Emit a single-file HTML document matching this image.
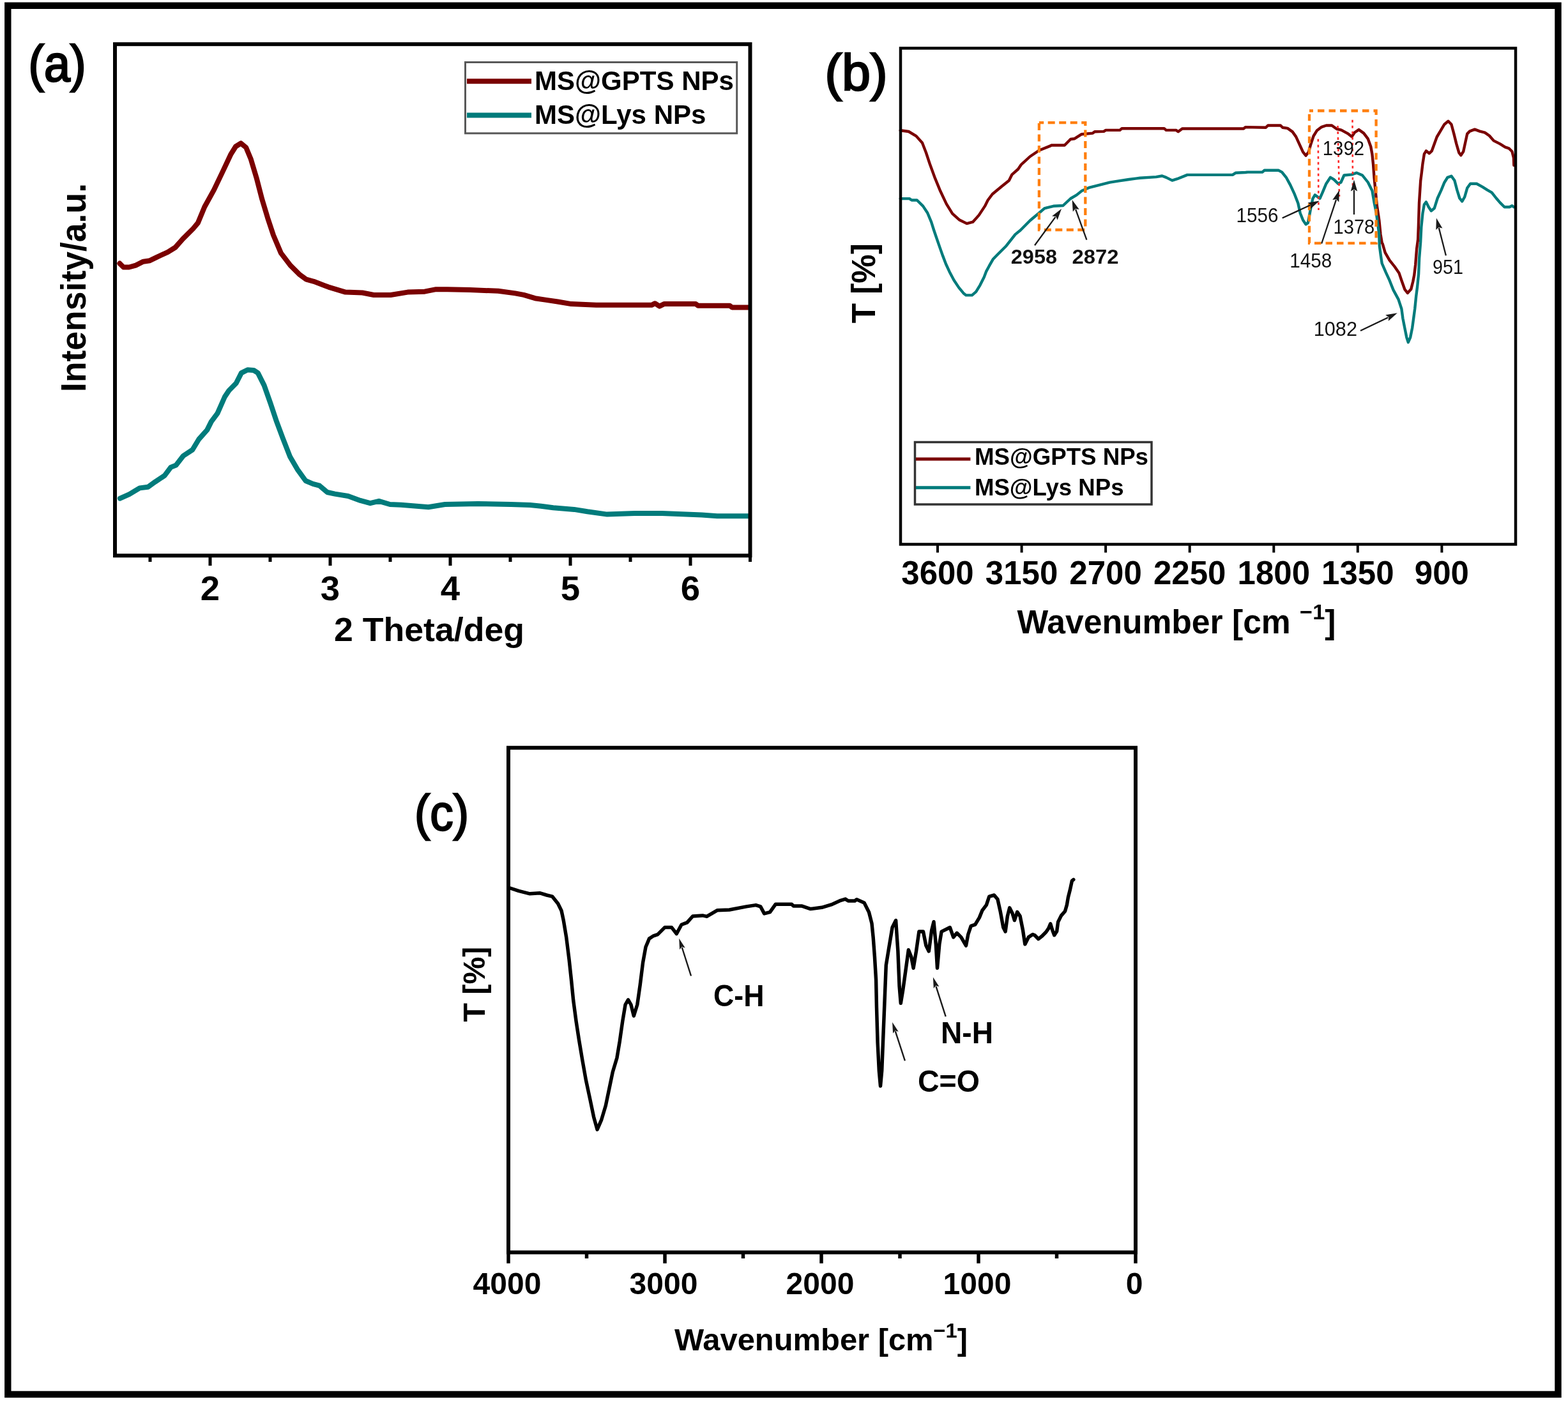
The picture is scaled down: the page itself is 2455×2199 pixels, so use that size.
<!DOCTYPE html>
<html><head><meta charset="utf-8"><title>Figure</title>
<style>html,body{margin:0;padding:0;background:#fff;}svg{display:block;}text{font-family:'Liberation Sans', Arial, sans-serif;}</style>
</head><body>
<svg width="2455" height="2199" viewBox="0 0 2455 2199">
<rect x="0" y="0" width="2455" height="2199" fill="#fff"/>
<rect x="12.3" y="8.8" width="2427.2" height="2175.1" fill="none" stroke="#000" stroke-width="10.4"/>
<polyline points="187.4,412.6 193.3,418.5 202.1,418.5 212.5,415.6 224.3,409.7 234.6,408.2 246.4,402.3 262.7,394.9 274.5,387.5 286.3,374.2 302.5,358.0 309.9,349.1 320.3,324.0 335.0,297.4 349.8,266.4 361.6,241.3 369.0,229.5 377.1,224.4 385.2,231.0 392.6,248.7 401.5,278.3 410.3,312.2 419.2,341.7 428.0,368.3 439.9,396.4 454.6,415.6 469.4,430.3 479.7,437.7 491.3,440.8 514.3,449.6 540.9,457.6 567.4,458.5 585.2,462.0 611.7,462.0 638.3,457.6 664.9,456.7 682.6,453.2 700.3,453.2 735.8,454.0 780.1,455.8 806.6,459.4 820.0,461.9 837.7,467.2 855.4,469.9 873.2,472.5 894.4,476.1 933.4,477.8 1020.2,477.8 1025.5,475.2 1032.6,479.6 1039.7,476.1 1089.3,476.1 1092.9,478.7 1142.5,478.7 1146.0,481.4 1172.6,481.4" fill="none" stroke="#7a0000" stroke-width="8" stroke-linejoin="round" stroke-linecap="round" />
<polyline points="187.9,780.6 202.5,774.1 218.7,764.4 231.7,762.7 243.1,754.6 257.7,744.9 267.4,731.9 275.6,728.6 286.9,714.0 301.5,704.3 311.3,688.0 324.3,673.4 330.8,660.4 340.5,647.4 351.9,621.5 358.4,611.7 369.7,600.3 377.9,584.1 387.6,579.2 397.3,580.0 403.8,584.1 413.6,603.6 423.3,631.2 433.1,660.4 442.8,686.4 454.2,715.6 465.6,735.1 478.5,753.0 489.9,757.9 500.3,760.7 512.4,771.0 524.4,773.6 545.1,777.0 564.1,783.9 579.6,788.2 593.3,784.8 610.6,790.0 627.8,790.8 670.8,794.3 696.7,790.0 748.3,789.1 800.0,790.0 830.0,791.0 847.2,792.7 866.2,795.3 898.9,797.9 919.6,801.3 950.6,805.6 993.6,803.9 1036.7,803.9 1098.7,806.5 1122.8,808.2 1172.7,808.2" fill="none" stroke="#007b7b" stroke-width="8" stroke-linejoin="round" stroke-linecap="round" />
<rect x="180" y="69.2" width="994.5" height="801.0" fill="none" stroke="#000" stroke-width="6"/>
<line x1="329" y1="870.2" x2="329" y2="886" stroke="#000" stroke-width="5" />
<line x1="517" y1="870.2" x2="517" y2="886" stroke="#000" stroke-width="5" />
<line x1="705" y1="870.2" x2="705" y2="886" stroke="#000" stroke-width="5" />
<line x1="893" y1="870.2" x2="893" y2="886" stroke="#000" stroke-width="5" />
<line x1="1081" y1="870.2" x2="1081" y2="886" stroke="#000" stroke-width="5" />
<line x1="235" y1="870.2" x2="235" y2="880" stroke="#000" stroke-width="5" />
<line x1="423" y1="870.2" x2="423" y2="880" stroke="#000" stroke-width="5" />
<line x1="611" y1="870.2" x2="611" y2="880" stroke="#000" stroke-width="5" />
<line x1="799" y1="870.2" x2="799" y2="880" stroke="#000" stroke-width="5" />
<line x1="987" y1="870.2" x2="987" y2="880" stroke="#000" stroke-width="5" />
<line x1="1174.5" y1="870.2" x2="1174.5" y2="880" stroke="#000" stroke-width="5" />
<text x="329" y="939.5" font-size="54.5" font-weight="bold" text-anchor="middle" fill="#000" >2</text>
<text x="517" y="939.5" font-size="54.5" font-weight="bold" text-anchor="middle" fill="#000" >3</text>
<text x="705" y="939.5" font-size="54.5" font-weight="bold" text-anchor="middle" fill="#000" >4</text>
<text x="893" y="939.5" font-size="54.5" font-weight="bold" text-anchor="middle" fill="#000" >5</text>
<text x="1081" y="939.5" font-size="54.5" font-weight="bold" text-anchor="middle" fill="#000" >6</text>
<text x="672" y="1004" font-size="52" font-weight="bold" text-anchor="middle" fill="#000" textLength="298" lengthAdjust="spacingAndGlyphs" >2 Theta/deg</text>
<text x="133.8" y="450.5" font-size="55.5" font-weight="bold" text-anchor="middle" fill="#000" textLength="327" lengthAdjust="spacingAndGlyphs" transform="rotate(-90 133.8 450.5)" >Intensity/a.u.</text>
<text x="44.5" y="126.5" font-size="79" font-weight="normal" text-anchor="start" fill="#000" textLength="90" lengthAdjust="spacingAndGlyphs" stroke="#000" stroke-width="2.6">(a)</text>
<rect x="728.5" y="97.5" width="425.2" height="111.3" fill="none" stroke="#585858" stroke-width="3"/>
<line x1="731" y1="127.2" x2="832" y2="127.2" stroke="#7a0000" stroke-width="8" />
<line x1="731" y1="180.4" x2="832" y2="180.4" stroke="#007b7b" stroke-width="8" />
<text x="837" y="141.3" font-size="42" font-weight="bold" text-anchor="start" fill="#000" textLength="312" lengthAdjust="spacingAndGlyphs" >MS@GPTS NPs</text>
<text x="837" y="194.4" font-size="42" font-weight="bold" text-anchor="start" fill="#000" textLength="268.5" lengthAdjust="spacingAndGlyphs" >MS@Lys NPs</text>
<polyline points="1409.7,204.2 1422.7,206.0 1434.5,213.1 1444.0,223.7 1449.9,239.0 1455.8,256.8 1464.0,279.2 1472.3,299.3 1481.8,319.4 1491.2,334.7 1501.8,344.2 1513.7,350.1 1523.1,347.7 1532.6,337.1 1542.0,322.9 1546.7,313.5 1553.8,304.0 1568.0,292.2 1579.8,282.8 1584.5,273.3 1594.0,265.0 1598.7,258.0 1612.9,245.0 1627.0,235.5 1644.8,228.4 1646.3,227.5 1666.8,227.5 1676.2,218.0 1682.5,217.2 1693.5,210.2 1710.9,208.6 1714.0,206.2 1728.2,205.9 1731.3,203.9 1753.4,203.9 1756.5,201.2 1822.7,201.2 1825.8,203.9 1841.6,203.9 1844.7,206.2 1851.0,201.5 1947.1,201.5 1950.2,199.1 1981.9,199.8 1985.2,196.5 2004.9,196.5 2008.2,199.8 2015.9,200.9 2023.6,206.4 2029.1,214.1 2034.6,226.2 2040.1,238.2 2044.5,243.7 2048.9,238.2 2052.2,226.2 2056.6,213.0 2062.1,204.2 2068.7,199.2 2076.4,196.5 2085.2,196.5 2092.9,202.0 2100.0,203.6 2111.0,209.7 2116.5,214.1 2120.9,207.5 2127.5,203.1 2135.2,208.6 2141.8,217.4 2146.2,229.5 2148.4,241.5 2150.0,256.9 2151.6,278.9 2153.8,300.9 2156.0,322.9 2159.3,344.8 2161.5,366.8 2163.7,380.0 2164.7,381.9 2168.7,395.7 2175.6,407.6 2183.5,417.5 2190.4,427.4 2194.4,439.2 2199.3,453.1 2203.8,459.0 2209.2,453.1 2212.2,441.2 2214.2,431.3 2216.2,414.5 2218.1,389.8 2220.1,375.0 2220.9,353.6 2222.0,317.4 2224.2,283.3 2225.9,270.0 2227.4,257.0 2229.9,241.2 2232.9,236.3 2237.8,240.2 2241.8,236.3 2245.7,225.4 2249.7,214.5 2255.6,204.6 2261.5,194.7 2267.5,189.8 2272.4,194.7 2276.4,209.6 2280.3,225.4 2284.3,239.2 2287.3,243.2 2291.2,237.3 2294.2,223.4 2297.2,209.6 2301.1,205.6 2309.0,202.6 2316.9,205.6 2324.8,207.6 2331.8,212.5 2338.7,220.4 2348.6,225.4 2356.5,230.3 2362.4,232.3 2367.4,237.3 2369.9,247.2 2370.3,259.0" fill="none" stroke="#7a0000" stroke-width="4.4" stroke-linejoin="round" stroke-linecap="round" />
<polyline points="1409.7,311.1 1423.9,311.1 1427.4,313.5 1435.7,313.5 1445.2,322.9 1452.2,333.5 1458.1,347.7 1462.0,360.0 1466.0,371.8 1471.5,387.6 1476.2,400.9 1481.0,413.5 1486.5,425.4 1493.5,438.7 1501.4,450.6 1508.5,459.2 1512.4,462.4 1521.9,462.4 1528.2,456.9 1534.5,446.6 1540.8,434.0 1544.0,425.4 1548.7,416.7 1555.0,405.7 1562.8,397.8 1575.4,385.2 1584.1,374.2 1589.6,367.1 1597.5,360.8 1612.9,345.3 1627.0,333.5 1635.3,326.4 1640.0,325.1 1649.4,322.8 1664.4,322.0 1676.2,311.0 1685.7,305.4 1693.5,299.1 1706.1,293.6 1721.9,289.7 1737.6,285.7 1751.8,283.4 1767.6,281.0 1784.9,278.7 1810.1,277.1 1819.5,275.5 1825.8,277.9 1835.3,282.6 1843.1,280.2 1858.9,273.9 1929.8,273.9 1934.5,270.8 1950.2,270.0 1953.3,269.6 1976.4,269.6 1979.7,266.8 2001.6,266.8 2007.1,269.6 2013.7,277.8 2020.3,289.9 2026.9,304.2 2032.4,318.5 2035.7,333.8 2040.1,344.8 2044.5,351.4 2047.8,349.2 2050.0,338.2 2052.2,326.2 2055.5,310.8 2058.8,305.3 2063.2,308.6 2066.5,310.8 2070.9,300.9 2076.4,287.7 2083.0,277.8 2088.5,281.1 2095.1,287.7 2099.5,285.5 2104.4,274.5 2116.5,273.4 2124.2,270.7 2133.0,274.5 2141.8,285.5 2148.4,298.7 2151.6,317.4 2154.9,333.8 2157.1,350.3 2159.3,366.8 2159.8,384.8 2161.8,399.7 2163.7,412.5 2169.7,426.4 2175.6,439.2 2181.5,454.1 2189.5,468.9 2194.4,483.7 2196.4,498.6 2199.3,513.4 2202.3,528.3 2204.8,536.2 2208.2,528.3 2211.2,513.4 2213.2,498.6 2215.2,483.7 2217.2,464.0 2219.1,449.1 2221.1,429.3 2222.1,404.6 2224.1,379.9 2225.3,355.8 2227.5,333.8 2229.9,320.3 2232.9,316.4 2236.8,324.3 2240.8,330.2 2245.7,326.3 2250.7,310.5 2256.6,297.6 2261.5,285.7 2266.5,277.8 2272.4,275.8 2277.4,282.8 2281.3,297.6 2285.3,310.5 2289.2,315.4 2293.2,308.5 2297.2,294.6 2302.1,287.7 2312.0,287.7 2320.9,292.6 2328.8,297.6 2335.7,301.6 2342.7,310.5 2348.6,317.4 2355.5,324.3 2363.4,324.3 2367.4,322.3 2370.3,324.3" fill="none" stroke="#007b7b" stroke-width="4.4" stroke-linejoin="round" stroke-linecap="round" />
<rect x="1626.9" y="192.1" width="72.4" height="167.9" fill="none" stroke="#ff7f0e" stroke-width="4.3" stroke-dasharray="11,6.5" stroke-dashoffset="3.7"/>
<rect x="2050" y="173.5" width="104.6" height="207.3" fill="none" stroke="#ff7f0e" stroke-width="4.3" stroke-dasharray="10.5,7" stroke-dashoffset="4.5"/>
<line x1="2063.8" y1="217.7" x2="2064.5" y2="329" stroke="#ff2a2a" stroke-width="2.6" stroke-dasharray="4,5"/>
<line x1="2094.5" y1="197" x2="2097" y2="307.7" stroke="#ff2a2a" stroke-width="2.6" stroke-dasharray="4,5"/>
<line x1="2117.5" y1="187.7" x2="2118" y2="297" stroke="#ff2a2a" stroke-width="2.6" stroke-dasharray="4,5"/>
<rect x="1410" y="75.5" width="963" height="777.0" fill="none" stroke="#000" stroke-width="4.5"/>
<line x1="1468.0" y1="852.5" x2="1468.0" y2="865.5" stroke="#000" stroke-width="4" />
<text x="1468.0" y="915" font-size="51" font-weight="bold" text-anchor="middle" fill="#000" >3600</text>
<line x1="1599.6" y1="852.5" x2="1599.6" y2="865.5" stroke="#000" stroke-width="4" />
<text x="1599.6" y="915" font-size="51" font-weight="bold" text-anchor="middle" fill="#000" >3150</text>
<line x1="1731.1" y1="852.5" x2="1731.1" y2="865.5" stroke="#000" stroke-width="4" />
<text x="1731.1" y="915" font-size="51" font-weight="bold" text-anchor="middle" fill="#000" >2700</text>
<line x1="1862.7" y1="852.5" x2="1862.7" y2="865.5" stroke="#000" stroke-width="4" />
<text x="1862.7" y="915" font-size="51" font-weight="bold" text-anchor="middle" fill="#000" >2250</text>
<line x1="1994.3" y1="852.5" x2="1994.3" y2="865.5" stroke="#000" stroke-width="4" />
<text x="1994.3" y="915" font-size="51" font-weight="bold" text-anchor="middle" fill="#000" >1800</text>
<line x1="2125.8" y1="852.5" x2="2125.8" y2="865.5" stroke="#000" stroke-width="4" />
<text x="2125.8" y="915" font-size="51" font-weight="bold" text-anchor="middle" fill="#000" >1350</text>
<line x1="2257.4" y1="852.5" x2="2257.4" y2="865.5" stroke="#000" stroke-width="4" />
<text x="2257.4" y="915" font-size="51" font-weight="bold" text-anchor="middle" fill="#000" >900</text>
<text x="1592.5" y="992" font-size="51" font-weight="bold" fill="#000" textLength="499" lengthAdjust="spacingAndGlyphs">Wavenumber [cm <tspan dy="-22" font-size="34">−1</tspan><tspan dy="22">]</tspan></text>
<text x="1370" y="443.8" font-size="52" font-weight="bold" text-anchor="middle" fill="#000" textLength="125" lengthAdjust="spacingAndGlyphs" transform="rotate(-90 1370 443.8)" >T [%]</text>
<text x="1291.5" y="141" font-size="79" font-weight="normal" text-anchor="start" fill="#000" textLength="98" lengthAdjust="spacingAndGlyphs" stroke="#000" stroke-width="2.6">(b)</text>
<rect x="1432.5" y="692.5" width="370.5" height="97.5" fill="none" stroke="#333" stroke-width="3.5"/>
<line x1="1434" y1="719" x2="1519.4" y2="719" stroke="#7a0000" stroke-width="5" />
<line x1="1434" y1="763.7" x2="1519.4" y2="763.7" stroke="#007b7b" stroke-width="5" />
<text x="1526" y="728.2" font-size="37.7" font-weight="bold" text-anchor="start" fill="#000" textLength="272" lengthAdjust="spacingAndGlyphs" >MS@GPTS NPs</text>
<text x="1526" y="775.5" font-size="37.7" font-weight="bold" text-anchor="start" fill="#000" textLength="233.5" lengthAdjust="spacingAndGlyphs" >MS@Lys NPs</text>
<text x="1582.8" y="412.9" font-size="31" font-weight="bold" text-anchor="start" fill="#111" textLength="72.3" lengthAdjust="spacingAndGlyphs" >2958</text>
<text x="1678.5" y="412.9" font-size="31" font-weight="bold" text-anchor="start" fill="#111" textLength="73" lengthAdjust="spacingAndGlyphs" >2872</text>
<text x="2070.8" y="243" font-size="32" font-weight="normal" text-anchor="start" fill="#111" textLength="65.3" lengthAdjust="spacingAndGlyphs" >1392</text>
<text x="1935.5" y="347.7" font-size="32" font-weight="normal" text-anchor="start" fill="#111" textLength="66" lengthAdjust="spacingAndGlyphs" >1556</text>
<text x="2087.5" y="366.2" font-size="32" font-weight="normal" text-anchor="start" fill="#111" textLength="64.8" lengthAdjust="spacingAndGlyphs" >1378</text>
<text x="2019.3" y="418.5" font-size="32" font-weight="normal" text-anchor="start" fill="#111" textLength="66.0" lengthAdjust="spacingAndGlyphs" >1458</text>
<text x="2056.7" y="525.6" font-size="32" font-weight="normal" text-anchor="start" fill="#111" textLength="68.3" lengthAdjust="spacingAndGlyphs" >1082</text>
<text x="2243.1" y="429.2" font-size="32" font-weight="normal" text-anchor="start" fill="#111" textLength="48.0" lengthAdjust="spacingAndGlyphs" >951</text>
<line x1="1620" y1="384.3" x2="1652.5" y2="339.9" stroke="#1a1a1a" stroke-width="2.3"/>
<polygon points="1662.0,327.0 1655.6,344.6 1653.1,339.1 1647.1,338.4" fill="#1a1a1a"/>
<line x1="1701.4" y1="375.7" x2="1684.1" y2="327.9" stroke="#1a1a1a" stroke-width="2.3"/>
<polygon points="1678.6,312.9 1689.7,328.0 1683.7,327.0 1679.8,331.6" fill="#1a1a1a"/>
<line x1="2007.7" y1="341.5" x2="2051.5" y2="321.3" stroke="#1a1a1a" stroke-width="2.3"/>
<polygon points="2066.0,314.6 2051.9,326.9 2052.4,320.9 2047.5,317.4" fill="#1a1a1a"/>
<line x1="2069.2" y1="381.5" x2="2092.0" y2="312.9" stroke="#1a1a1a" stroke-width="2.3"/>
<polygon points="2097.0,297.7 2096.3,316.4 2092.3,311.9 2086.3,313.1" fill="#1a1a1a"/>
<line x1="2120" y1="336" x2="2120.0" y2="297.5" stroke="#1a1a1a" stroke-width="2.3"/>
<polygon points="2120.0,281.5 2125.2,299.5 2120.0,296.5 2114.8,299.5" fill="#1a1a1a"/>
<line x1="2130" y1="518" x2="2173.4" y2="497.2" stroke="#1a1a1a" stroke-width="2.3"/>
<polygon points="2187.8,490.3 2173.8,502.8 2174.3,496.8 2169.3,493.3" fill="#1a1a1a"/>
<line x1="2263.9" y1="400.3" x2="2252.8" y2="356.9" stroke="#1a1a1a" stroke-width="2.3"/>
<polygon points="2248.9,341.4 2258.4,357.5 2252.6,355.9 2248.3,360.1" fill="#1a1a1a"/>
<polyline points="796.4,1391.5 798.8,1391.0 812.0,1395.4 829.6,1399.8 845.0,1398.7 856.0,1402.0 864.8,1404.2 873.6,1415.2 879.0,1426.2 882.3,1441.6 886.7,1468.0 891.1,1503.1 894.4,1533.9 897.7,1566.9 902.1,1599.9 906.5,1628.5 912.0,1661.4 917.5,1692.2 924.1,1723.0 929.6,1749.4 935.1,1769.2 941.7,1753.8 948.3,1731.8 953.8,1705.4 959.3,1679.0 965.9,1657.0 970.3,1630.7 974.7,1599.9 979.1,1573.5 983.5,1565.8 987.9,1573.5 992.3,1591.1 997.8,1573.5 1002.2,1542.7 1006.6,1507.5 1011.0,1483.3 1016.5,1470.1 1023.1,1465.8 1029.7,1463.6 1040.7,1452.6 1051.6,1452.6 1059.3,1462.5 1067.0,1448.2 1075.8,1444.9 1084.6,1435.0 1100.0,1433.9 1106.6,1435.4 1122.8,1425.8 1142.0,1425.0 1168.6,1419.9 1183.4,1417.6 1190.7,1419.9 1196.6,1430.9 1205.5,1428.7 1214.4,1416.2 1239.5,1416.2 1242.4,1419.1 1255.7,1419.1 1269.0,1423.6 1286.7,1421.3 1301.5,1416.9 1316.2,1410.3 1323.6,1408.1 1328.0,1411.0 1338.4,1411.0 1341.3,1408.8 1353.1,1414.0 1360.5,1428.7 1365.0,1446.4 1367.2,1468.6 1369.4,1498.1 1371.6,1535.0 1372.5,1577.8 1374.1,1632.7 1376.3,1676.7 1378.5,1700.9 1380.7,1676.7 1382.9,1621.8 1385.1,1566.8 1387.3,1511.9 1391.6,1485.5 1397.1,1452.5 1402.6,1441.5 1405.9,1489.9 1408.1,1544.8 1410.3,1571.2 1413.6,1551.4 1419.1,1511.9 1422.4,1487.7 1426.8,1498.7 1430.1,1516.3 1434.5,1489.9 1438.9,1459.1 1445.5,1459.1 1449.9,1481.1 1454.3,1489.9 1458.7,1456.9 1462.0,1443.7 1465.3,1478.9 1467.5,1516.3 1470.8,1478.9 1474.1,1459.1 1482.9,1454.7 1487.3,1452.5 1492.7,1467.9 1498.2,1461.3 1504.8,1467.9 1512.5,1481.1 1515.8,1463.5 1520.2,1450.3 1526.8,1448.1 1533.4,1437.1 1537.8,1426.2 1544.4,1417.4 1548.8,1404.2 1556.5,1402.0 1562.0,1408.6 1566.4,1428.4 1570.8,1452.5 1574.1,1459.1 1577.4,1434.9 1580.7,1421.8 1585.1,1430.5 1588.4,1441.5 1592.7,1428.4 1597.1,1434.9 1601.5,1456.9 1604.8,1478.9 1610.3,1467.9 1616.9,1463.5 1620.0,1464.7 1625.9,1470.7 1630.9,1466.7 1637.8,1459.8 1641.8,1453.9 1644.7,1446.9 1647.7,1456.8 1650.7,1464.7 1654.6,1458.8 1656.6,1444.0 1661.5,1434.1 1667.5,1427.2 1670.4,1417.3 1672.4,1405.4 1675.4,1393.5 1678.4,1379.7 1680.8,1377.7" fill="none" stroke="#000" stroke-width="5.5" stroke-linejoin="round" stroke-linecap="round" />
<rect x="796" y="1171.2" width="982" height="790.3" fill="none" stroke="#000" stroke-width="6"/>
<line x1="796" y1="1961.5" x2="796" y2="1978.7" stroke="#000" stroke-width="5.5" />
<line x1="1041" y1="1961.5" x2="1041" y2="1978.7" stroke="#000" stroke-width="5.5" />
<line x1="1286" y1="1961.5" x2="1286" y2="1978.7" stroke="#000" stroke-width="5.5" />
<line x1="1532" y1="1961.5" x2="1532" y2="1978.7" stroke="#000" stroke-width="5.5" />
<line x1="1778" y1="1961.5" x2="1778" y2="1978.7" stroke="#000" stroke-width="5.5" />
<line x1="918.5" y1="1961.5" x2="918.5" y2="1971" stroke="#000" stroke-width="5.5" />
<line x1="1163.5" y1="1961.5" x2="1163.5" y2="1971" stroke="#000" stroke-width="5.5" />
<line x1="1409" y1="1961.5" x2="1409" y2="1971" stroke="#000" stroke-width="5.5" />
<line x1="1654.5" y1="1961.5" x2="1654.5" y2="1971" stroke="#000" stroke-width="5.5" />
<text x="794" y="2026.7" font-size="48" font-weight="bold" text-anchor="middle" fill="#000" >4000</text>
<text x="1039" y="2026.7" font-size="48" font-weight="bold" text-anchor="middle" fill="#000" >3000</text>
<text x="1284" y="2026.7" font-size="48" font-weight="bold" text-anchor="middle" fill="#000" >2000</text>
<text x="1530" y="2026.7" font-size="48" font-weight="bold" text-anchor="middle" fill="#000" >1000</text>
<text x="1776" y="2026.7" font-size="48" font-weight="bold" text-anchor="middle" fill="#000" >0</text>
<text x="1056" y="2115.3" font-size="48" font-weight="bold" fill="#000" textLength="459" lengthAdjust="spacingAndGlyphs">Wavenumber [cm<tspan dy="-20" font-size="32">−1</tspan><tspan dy="20">]</tspan></text>
<text x="759.3" y="1541.6" font-size="48" font-weight="bold" text-anchor="middle" fill="#000" textLength="118" lengthAdjust="spacingAndGlyphs" transform="rotate(-90 759.3 1541.6)" >T [%]</text>
<text x="649" y="1299.5" font-size="78" font-weight="normal" text-anchor="start" fill="#000" textLength="85" lengthAdjust="spacingAndGlyphs" stroke="#000" stroke-width="2.4">(c)</text>
<text x="1117" y="1576" font-size="48" font-weight="bold" text-anchor="start" fill="#000" textLength="79.5" lengthAdjust="spacingAndGlyphs" >C-H</text>
<text x="1437" y="1709.9" font-size="47.5" font-weight="bold" text-anchor="start" fill="#000" textLength="97" lengthAdjust="spacingAndGlyphs" >C=O</text>
<text x="1473" y="1634" font-size="47.5" font-weight="bold" text-anchor="start" fill="#000" textLength="82" lengthAdjust="spacingAndGlyphs" >N-H</text>
<line x1="1082" y1="1528.5" x2="1067.8" y2="1484.0" stroke="#1a1a1a" stroke-width="2.4"/>
<polygon points="1063.2,1469.7 1072.7,1484.5 1067.5,1483.0 1064.1,1487.3" fill="#1a1a1a"/>
<line x1="1416.9" y1="1661.3" x2="1401.8" y2="1615.2" stroke="#1a1a1a" stroke-width="2.4"/>
<polygon points="1397.1,1600.9 1406.7,1615.7 1401.5,1614.2 1398.1,1618.5" fill="#1a1a1a"/>
<line x1="1480.7" y1="1592.1" x2="1465.5" y2="1544.8" stroke="#1a1a1a" stroke-width="2.4"/>
<polygon points="1460.9,1530.5 1470.4,1545.3 1465.2,1543.8 1461.8,1548.1" fill="#1a1a1a"/>
</svg>
</body></html>
